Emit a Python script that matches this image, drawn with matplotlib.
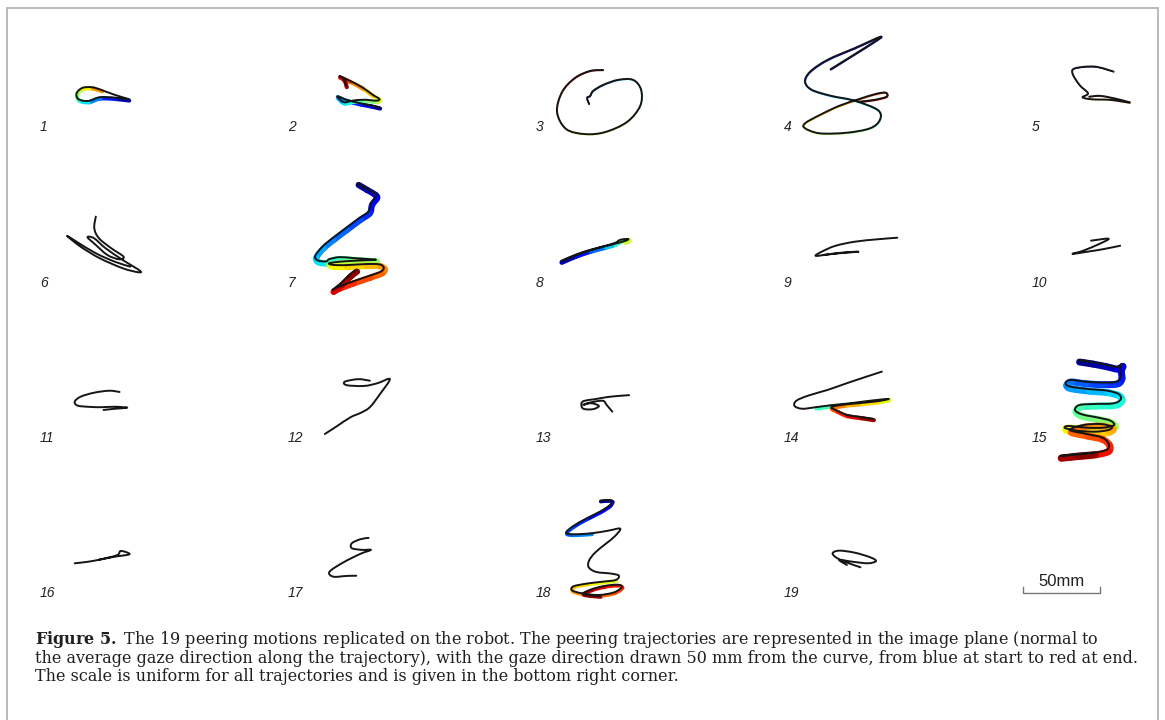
import numpy as np
import matplotlib
matplotlib.use("Agg")
import matplotlib.pyplot as plt
from matplotlib.path import Path
from matplotlib.patches import PathPatch, Rectangle

plt.rcParams["mathtext.fontset"] = "custom"
plt.rcParams["mathtext.rm"] = "DejaVu Serif"
plt.rcParams["mathtext.bf"] = "DejaVu Serif:bold"

# ------------------------------------------------------------
# Data: peering trajectories in mm, (x, y) relative to the panel label, y up
# ------------------------------------------------------------
p01 = [(55.5, 18), (46.8, 19), (36.8, 19.3), (29.3, 16.9), (23.1, 18), (21.8, 21.9),
       (25.6, 25.4), (31.9, 25.8), (38, 24), (46.8, 20.8), (55.5, 18.2)]
p02 = [(57.4, 12.8), (51.9, 14.1), (45, 15.4), (36.2, 17.6), (30, 20), (34.3, 16.1),
       (40, 17.1), (47.5, 17.7), (55.4, 17.1), (57.4, 18.2), (52.9, 21), (46.2, 25.8),
       (38, 30.1), (31.5, 33), (34.3, 31), (35.8, 26.7)]
p03 = [(32.5, 15), (31.2, 18.9), (33.2, 20.2), (35.1, 23.4), (41.6, 27.3), (51.4, 30.6),
       (61.1, 30.6), (66.3, 24.1), (65.7, 13.7), (57.2, 3.3), (42.9, -3.3), (29.9, -4.6),
       (17.6, -1.3), (11.7, 9.8), (15, 22.8), (23.4, 31.9), (33.2, 36.4), (41.6, 37)]
p04 = [(28.3, 37.5), (61, 58.3), (43.9, 51.2), (26.3, 43.6), (15, 35.9), (11.7, 29.4),
       (16.2, 24.1), (28.8, 20.2), (43.9, 17.1), (59, 11), (60.3, 4.6), (54, -0.8),
       (38.9, -3.7), (21.3, -4.1), (11.7, -0.8), (11.7, 2.4), (21.3, 7.8), (33.8, 13.7),
       (46.4, 18), (57.8, 21.5), (64.1, 22.3), (64.6, 19.7), (56.6, 17.6), (46.4, 16.4)]
p05 = [(51, 36), (38.9, 39.2), (26.3, 38.2), (24.3, 34.9), (28.9, 27.3), (34.4, 21.9),
       (30.9, 19.3), (36.9, 18), (49, 17.6), (61.6, 15.8), (54, 18), (42.7, 20.2),
       (35.2, 19.7)]
p06 = [(34.3, 43.1), (33.3, 35.6), (36.3, 29.1), (44.3, 22.6), (52.3, 17.1), (49.3, 15.4),
       (41.8, 18.2), (34.3, 24.7), (28.9, 29.7), (33.1, 29.1), (40.6, 22.6), (51.7, 15),
       (62.9, 8), (61.7, 7), (51.7, 9.6), (36.8, 16.1), (24.4, 23.6), (15.6, 30.6),
       (21.8, 26.8), (34.3, 19.3), (46.7, 13.8), (56.7, 10.6)]
p07 = [(43.3, 64.9), (48.7, 61.7), (54.2, 58.4), (55.2, 56.3), (52, 51.9), (50.5, 46.5),
       (44.4, 42.2), (35.7, 35.7), (27.1, 29.2), (20.6, 23.8), (15.8, 17.7), (17.3, 14.7),
       (22.7, 14), (24.9, 15.5), (31.4, 16.8), (40.1, 16.2), (50.9, 15.5), (55.2, 15.1),
       (46.6, 14.7), (33.6, 14), (24.9, 12.9), (27.1, 11.8), (35.7, 11.6), (48.7, 12.3),
       (57.4, 12.1), (60.2, 10.1), (58.5, 7.5), (50.9, 4.7), (40.1, 1), (30.3, -2.7),
       (27.1, -4.4), (32.5, -0.1), (37.9, 5.3), (42.2, 8.6)]
p08 = [(14.3, 14.3), (23.4, 18.2), (33.2, 21.5), (42.9, 24.1), (49.4, 26), (52.7, 28),
       (57.9, 28.6), (55.9, 27.3), (46.2, 24.7), (36.4, 22.1), (26.7, 18.9), (16.9, 15)]
p09 = [(71.6, 29.4), (59, 28.4), (43.9, 26.8), (31.3, 24.1), (22.5, 20.3), (18.7, 17.6),
       (28.8, 18.9), (38.9, 20), (46.4, 20.3), (33.9, 19.3), (23.8, 18.2)]
p10 = [(36.4, 27.5), (47.7, 28.8), (42.7, 25.8), (31.4, 21), (24.3, 18.9), (33.9, 20.3),
       (43.9, 21.9), (55.3, 24.2)]
p11 = [(49.7, 29.9), (43, 30.7), (33.1, 29.4), (24.4, 26.8), (20.6, 23.6), (22.6, 21),
       (30.6, 20.2), (38, 20), (46.7, 20.3), (54.7, 19.7), (46.7, 19), (39.3, 18.2)]
p12 = [(22, 2.6), (30, 7.8), (38.7, 13.5), (45.4, 16.4), (51.2, 20), (57.4, 28),
       (64.2, 38.2), (56.2, 35.6), (47.5, 33.8), (36.2, 34.3), (35, 36.6), (43.7, 38.2),
       (51.2, 37.2)]
p13 = [(58.5, 27.8), (51.4, 27.3), (43.9, 26.5), (36.3, 25.2), (29.3, 24.1), (27.5, 22.1),
       (28.8, 19), (35, 18.7), (38.9, 20.8), (33.8, 22.6), (28.8, 21.5), (32.6, 22.9),
       (41.3, 24.2), (43.9, 21.5), (47.6, 17.1)]
p14 = [(61.6, 43.1), (51.5, 39.8), (38.9, 35.6), (26.3, 31.2), (13.7, 27.5), (6.1, 24.2),
       (4.9, 20.8), (9.9, 19), (18.7, 20), (28.8, 21.3), (41.4, 22.6), (54, 24.2),
       (66.1, 25.4), (59, 23.9), (46.4, 22.6), (36.3, 21.6), (28.8, 20), (32.6, 17.7),
       (38.9, 15), (47.7, 13.7), (56, 12.4)]
p15 = [(28.2, 50.7), (36.8, 49.4), (45.5, 47.7), (53.1, 46.1), (56.3, 47.9), (55.3, 44.6),
       (55.7, 39.9), (53.1, 36.6), (44.4, 36), (32.5, 36.6), (22.8, 37.7), (19.9, 35.5),
       (22.8, 33.4), (34.7, 31.8), (46.6, 30.8), (54.2, 28.6), (55.7, 25.1), (50.9, 22.5),
       (39, 22.1), (28.8, 21.4), (26, 18.2), (30.3, 15.4), (41.2, 13.2), (48.8, 11.3),
       (51.4, 8.4), (44.4, 6.7), (33.6, 6.7), (21.7, 7.8), (19.5, 6.5), (27.1, 4.8),
       (39, 4.1), (47.7, 5.2), (49.8, 7.4), (42.3, 9.1), (31.4, 8.4), (22.8, 5.2),
       (33.6, 2.6), (43.3, 0.4), (47.7, -3.5), (47, -7.4), (39, -9.5), (28.2, -10.6),
       (16.3, -11.7), (27.1, -10.4), (37.9, -9.5)]
p16 = [(20.6, 19.3), (29.3, 20.3), (38, 21.9), (46.7, 23.6), (56.2, 25.2), (50.5, 27.3),
       (48, 24.5), (36, 21.5)]
p17 = [(50.4, 35.8), (45, 34.9), (39.5, 32.3), (39.5, 29.1), (46.2, 28), (51.9, 28),
       (45, 25.4), (33.7, 19.7), (25, 13.8), (27.5, 10.6), (36.2, 11.1), (42.4, 11.2)]
p18 = [(39.7, 60), (44.4, 60.4), (47.5, 59.8), (45.7, 56.8), (39.7, 52.9), (31, 48.5),
       (22.3, 43.5), (17.6, 39.2), (22.3, 38.1), (34.2, 38.8), (45.1, 40.5), (52.7, 41.8),
       (49.4, 37), (42.9, 31.6), (36.4, 26.2), (32.5, 21), (32.3, 16.7), (37.1, 13.7),
       (46.8, 12.6), (51.8, 11.3), (50, 8.5), (41.8, 7.4), (31, 6.1), (22.3, 4.3),
       (21.5, 1.7), (27.7, -0.2), (38.6, -1.3), (48.7, 0.4), (53.9, 3.9), (50.9, 5.4),
       (42.2, 4.5), (34.2, 2.4), (28.8, -0.6), (39.7, -2)]
p19 = [(47.7, 16.7), (40.2, 19.3), (32.6, 22.6), (29.6, 25.8), (33.9, 27.5), (43.9, 26.2),
       (54, 23.2), (57.8, 20.8), (52.7, 19.3), (42.6, 20.3), (33.9, 21.5), (38.9, 18.2)]

trajectories = [p01, p02, p03, p04, p05, p06, p07, p08, p09, p10,
                p11, p12, p13, p14, p15, p16, p17, p18, p19]
panel_labels = [str(i) for i in range(1, 20)]
scale_mm = 50

caption_lines = [
    r"$\mathbf{Figure\ 5.}$ The 19 peering motions replicated on the robot. The peering "
    "trajectories are represented in the image plane (normal to",
    "the average gaze direction along the trajectory), with the gaze direction drawn "
    "50 mm from the curve, from blue at start to red at end.",
    "The scale is uniform for all trajectories and is given in the bottom right corner.",
]

# gaze band (blue -> red strip): width in points and the segment ranges where it shows
band_width = [3, 3, 1, 1.2, 0.8, 0, 4.5, 3.5, 0, 0, 0, 0, 0, 3, 5, 0, 0, 2.5, 0]
band_show = {1: [(0, 8)], 8: [(0, 7)], 14: [(8, 20)], 18: [(0, 9), (20, 33)]}

# ------------------------------------------------------------
# Layout (pixels of the 1165x720 canvas)
# ------------------------------------------------------------
W, H = 1165, 720
MM_PER_PX = scale_mm / 77.0
col_px = [43, 291, 539, 787, 1035]
row_px = [127, 283, 438, 593]
INK = "#151515"

fig = plt.figure(figsize=(W / 100, H / 100), dpi=100)
fig.patch.set_facecolor("white")


def cell_axes(cx, cy):
    left, right = cx - 30, cx + 210
    top, bottom = cy - 140, cy + 25
    ax = fig.add_axes([left / W, 1 - bottom / H, (right - left) / W, (bottom - top) / H])
    ax.set_xlim(-30 * MM_PER_PX, 210 * MM_PER_PX)
    ax.set_ylim(-25 * MM_PER_PX, 140 * MM_PER_PX)
    ax.axis("off")
    ax.patch.set_alpha(0)
    return ax


def bezier_pieces(xy):
    # smooth curve through the traced points (Catmull-Rom as cubic Bezier pieces)
    n = len(xy)
    ext = np.vstack([xy[0], xy, xy[-1]])
    pieces = []
    for k in range(n - 1):
        p0, p1, p2, p3 = ext[k], ext[k + 1], ext[k + 2], ext[k + 3]
        c1 = p1 + (p2 - p0) / 6.0
        c2 = p2 - (p3 - p1) / 6.0
        pieces.append((p1, c1, c2, p2))
    return pieces


def piece_path(pieces, shift=(0, 0)):
    verts, codes = [], []
    for j, (a, c1, c2, b) in enumerate(pieces):
        if j == 0:
            verts.append(a + shift)
            codes.append(Path.MOVETO)
        verts += [c1 + shift, c2 + shift, b + shift]
        codes += [Path.CURVE4] * 3
    return Path(verts, codes)


for i, pts in enumerate(trajectories):
    r, c = divmod(i, 5)
    ax = cell_axes(col_px[c], row_px[r])
    xy = np.asarray(pts, dtype=float)
    pieces = bezier_pieces(xy)
    nseg = len(pieces)
    if band_width[i] > 0:
        shift = np.array([0.3, -0.55]) * band_width[i] / 2.0
        ranges = band_show.get(i + 1, [(0, nseg)])
        for k in range(nseg):
            if not any(a <= k < b for a, b in ranges):
                continue
            col = plt.cm.jet((k + 0.5) / nseg)
            ax.add_patch(PathPatch(piece_path([pieces[k]], shift), fill=False,
                                   edgecolor=col, lw=band_width[i], capstyle="round",
                                   joinstyle="round", clip_on=False))
    ax.add_patch(PathPatch(piece_path(pieces), fill=False, edgecolor=INK, lw=1.4,
                           capstyle="round", joinstyle="round", clip_on=False))
    ax.text(-2, 0, panel_labels[i], ha="left", va="center", fontsize=10,
            style="italic", family="Liberation Sans", color="#222222")

# scale bar in the empty 20th cell
ax = cell_axes(col_px[4], row_px[3])
x0 = -8
ax.plot([x0, x0, x0 + scale_mm, x0 + scale_mm], [3.8, 0, 0, 3.8],
        color="#777777", lw=1.0, clip_on=False)
ax.text(x0 + scale_mm / 2, 4.5, f"{scale_mm}mm", ha="center", va="baseline",
        fontsize=12, family="Liberation Sans", color="#222222")

# frame around the whole figure
fig.add_artist(Rectangle((7 / W, 1 - 730 / H), (1158 - 7) / W, (730 - 8) / H,
                         transform=fig.transFigure, fill=False,
                         edgecolor="#b4b4b4", lw=1.3, clip_on=False))

# caption, one text block so the lines stay tightly spaced
fig.text(35 / W, 1 - 629 / H, "\n".join(caption_lines), family="DejaVu Serif",
         fontsize=11.5, color="#231f20", ha="left", va="top", linespacing=1.02)

fig.savefig("out.png", dpi=100, facecolor="white")
